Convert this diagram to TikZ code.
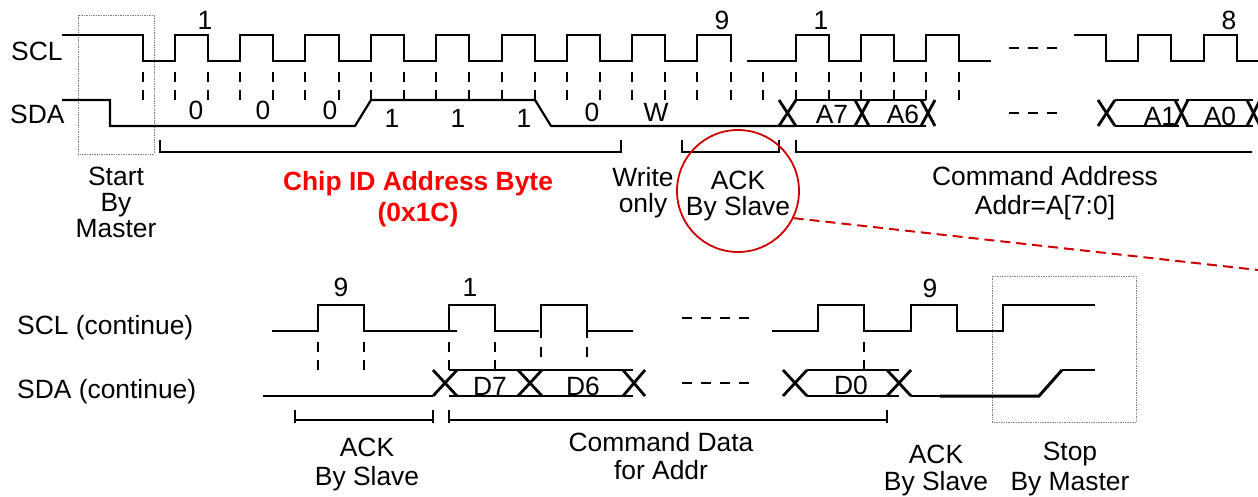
\documentclass[tikz,border=0pt]{standalone}
\usepackage{fontspec}
\setmainfont{Liberation Sans}
\usepackage{xcolor}
\usetikzlibrary{positioning}
\definecolor{ackred}{RGB}{204,0,0}

\tikzset{
  sig/.style={line width=2.2pt, line join=miter},
  cross/.style={line width=2.8pt},
  thicksig/.style={line width=3pt},
  tick/.style={line width=2.2pt, dash pattern=on 10pt off 8pt},
  gap/.style={line width=2.2pt, dash pattern=on 10pt off 9pt},
  bracket/.style={line width=2.2pt},
  dotbox/.style={draw=black!50, densely dotted, line width=0.7pt},
  txt/.style={font=\fontsize{26.4}{26}\selectfont, inner sep=0pt, align=center},
  num/.style={font=\fontsize{26.4}{26}\selectfont, inner sep=0pt},
}

\begin{document}
\begin{tikzpicture}[x=1pt,y=-1pt]
  \useasboundingbox (0,0) rectangle (1258,497);

  % first frame
  \node[txt,anchor=west] (sclone) at (11,51) {SCL};
  \node[txt,anchor=west] (sdaone) at (10,114) {SDA};
  \draw[dotbox] (78,15) rectangle (154,154);

  \draw[sig] (62,35) -- (143,35) -- (143,61) -- (175,61) -- (175,35) -- (208,35) -- (208,61)
    -- (240,61) -- (240,35) -- (273,35) -- (273,61) -- (305,61) -- (305,35) -- (339,35) -- (339,61)
    -- (371,61) -- (371,35) -- (404,35) -- (404,61) -- (436,61) -- (436,35) -- (469,35) -- (469,61)
    -- (502,61) -- (502,35) -- (535,35) -- (535,61) -- (567,61) -- (567,35) -- (600,35) -- (600,61)
    -- (632,61) -- (632,35) -- (665,35) -- (665,61) -- (697,61) -- (697,35) -- (731,35) -- (731,62);
  \draw[sig] (747,61) -- (796,61) -- (796,35) -- (829,35) -- (829,61) -- (861,61) -- (861,35)
    -- (894,35) -- (894,61) -- (926,61) -- (926,35) -- (959,35) -- (959,61) -- (991,61);
  \draw[sig] (1074,35) -- (1106,35) -- (1106,61) -- (1138,61) -- (1138,35) -- (1171,35) -- (1171,61)
    -- (1204,61) -- (1204,35) -- (1237,35) -- (1237,61) -- (1258,61);

  \foreach \x in {143,175,208,240,273,305,339,371,404,436,469,502,535,567,600,632,665,697,731,763,796,829,861,894,926,959}
    \draw[tick] (\x,72) -- (\x,100);

  \draw[sig] (62,100) -- (110,100) -- (110,126) -- (355,126) -- (371,100) -- (535,100) -- (551,126) -- (796,126);
  \draw[sig] (796,100) -- (926,100);
  \draw[sig] (796,126) -- (926,126);
  \draw[sig] (1115,100) -- (1179,100);
  \draw[sig] (1115,126) -- (1179,126);
  \draw[sig] (1186,100) -- (1253,100);
  \draw[sig] (1186,126) -- (1253,126);
  \foreach \a/\b in {779/796,855/869,921/935,1098/1115,1175/1188,1247/1260} {
    \draw[cross] (\a,100) -- (\b,126);
    \draw[cross] (\a,126) -- (\b,100);
  }
  \draw[gap] (1009,48) -- (1058,48);
  \draw[gap] (1009,113) -- (1058,113);

  \node[num] (clkone) at (205,20) {1};
  \node[num] (clknine) at (722,20) {9};
  \node[num] (clkoneb) at (821,20) {1};
  \node[num] (clkeight) at (1229,20) {8};
  \foreach \x/\y/\t [count=\i] in {196/110/0,263/110/0,330/110/0,392/118/1,458/118/1,524/118/1,592/112/0,656/112/W}
    \node[num] (bit\i) at (\x,\y) {\t};
  \node[num] (aseven) at (832,114) {A7};
  \node[num] (asix) at (903,114) {A6};
  \node[num] (aone) at (1160,116) {A1};
  \node[num] (azero) at (1220,116) {A0};

  \draw[bracket] (160,140) -- (160,152) -- (621,152) -- (621,140);
  \draw[bracket] (682,140) -- (682,152) -- (779,152) -- (779,140);
  \draw[bracket] (796,140) -- (796,152) -- (1252,152);

  \node[txt] (start) at (116,202) {Start\\By\\Master};
  \node[txt,text=red,font=\fontsize{26.4}{26}\selectfont\bfseries] (chipid) at (418,199) {Chip ID Address Byte\\[5pt](0x1C)};
  \node[txt] (wronly) at (643,193) {Write\\only};
  \node[txt] (ackone) at (738,196) {ACK\\By Slave};
  \node[txt] (cmdaddr) at (1045,193) {Command Address\\[3pt]Addr=A[7:0]};

  \node[circle,draw=ackred,line width=1.8pt,minimum size=122pt,inner sep=0pt] (ackring) at (738,191) {};
  \coordinate (zoomout) at (1258,270);
  \draw[ackred,line width=2pt,dash pattern=on 10pt off 6pt] (ackring.-26) -- (zoomout);

  % second frame
  \node[txt,anchor=west] (scltwo) at (17,328) {SCL (continue)};
  \node[txt,anchor=west] (sdatwo) at (17,392) {SDA (continue)};
  \draw[dotbox] (992,276) rectangle (1136,422);

  \draw[sig] (272,331) -- (318,331) -- (318,305) -- (364,305) -- (364,331) -- (457,331);
  \draw[sig] (449,331) -- (449,305) -- (495,305) -- (495,331) -- (539,331);
  \draw[sig] (541,331) -- (541,305) -- (587,305) -- (587,331) -- (633,331);
  \draw[sig] (772,331) -- (818,331) -- (818,305) -- (864,305) -- (864,331) -- (911,331) -- (911,305)
    -- (957,305) -- (957,331) -- (1003,331) -- (1003,305) -- (1095,305);

  \foreach \x in {318,364,449,495,864}
    \draw[tick] (\x,342) -- (\x,370);
  \foreach \x in {541,587} {
    \draw[sig] (\x,331) -- (\x,338);
    \draw[sig] (\x,347) -- (\x,357);
  }

  \draw[sig] (263,396) -- (433,396);
  \draw[sig] (449,370) -- (633,370);
  \draw[sig] (449,396) -- (633,396);
  \draw[sig] (807,370) -- (899,370);
  \draw[sig] (807,396) -- (899,396);
  \foreach \a/\b in {433/457,518/542,623/645,783/807,887/911} {
    \draw[cross] (\a,370) -- (\b,396);
    \draw[cross] (\a,396) -- (\b,370);
  }
  \draw[sig] (911,396) -- (940,396);
  \draw[thicksig] (940,396) -- (1039,396) -- (1062,370);
  \draw[sig] (1062,370) -- (1095,370);
  \draw[gap] (682,318) -- (750,318);
  \draw[gap] (682,383) -- (750,383);

  \node[num] (clknineb) at (341,287) {9};
  \node[num] (clkonec) at (470,287) {1};
  \node[num] (clkninec) at (930,288) {9};
  \node[num] (dseven) at (490,386) {D7};
  \node[num] (dsix) at (583,386) {D6};
  \node[num] (dzero) at (851,385) {D0};

  \draw[bracket] (295,410) -- (295,423);
  \draw[bracket] (295,420) -- (433,420);
  \draw[bracket] (433,410) -- (433,423);
  \draw[bracket] (449,410) -- (449,423);
  \draw[bracket] (449,420) -- (887,420);
  \draw[bracket] (887,410) -- (887,423);

  \node[txt] (acktwo) at (367,465) {ACK\\[3pt]By Slave};
  \node[txt] (cmddata) at (661,456) {Command Data\\[2pt]for Addr};
  \node[txt] (ackthree) at (936,471) {ACK\\[1pt]By Slave};
  \node[txt] (stop) at (1070,469) {Stop\\[4pt]By Master};
\end{tikzpicture}
\end{document}
